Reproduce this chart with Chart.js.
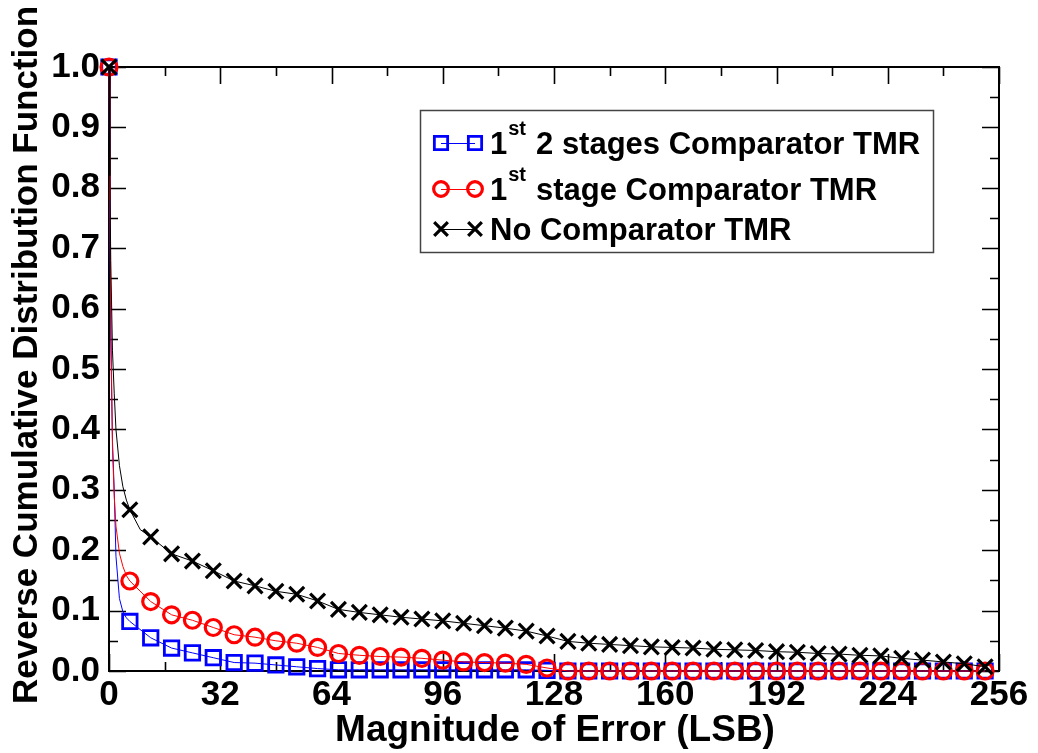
<!DOCTYPE html>
<html>
<head>
<meta charset="utf-8">
<script src="https://cdn.jsdelivr.net/npm/chart.js@4/dist/chart.umd.min.js"></script>
<style>
  html, body { margin: 0; padding: 0; background: #ffffff; }
  #wrap { width: 1038px; height: 753px; }
</style>
</head>
<body>
<div id="wrap"><canvas id="c" width="1038" height="753"></canvas></div>
<script>
// Error magnitudes (LSB) where markers are placed
const markerX = [0, 6, 12, 18, 24, 30, 36, 42, 48, 54, 60, 66, 72, 78, 84, 90, 96, 102, 108, 114,
  120, 126, 132, 138, 144, 150, 156, 162, 168, 174, 180, 186, 192, 198, 204, 210, 216, 222, 228,
  234, 240, 246, 252];

// Reverse CDF values at the marker positions
const noTmr = [1.0, 0.267, 0.222, 0.194, 0.182, 0.166, 0.149, 0.141, 0.132, 0.127, 0.116, 0.102,
  0.097, 0.093, 0.089, 0.086, 0.083, 0.079, 0.075, 0.071, 0.066, 0.058, 0.049, 0.046, 0.044, 0.042,
  0.040, 0.039, 0.038, 0.036, 0.035, 0.034, 0.032, 0.031, 0.029, 0.028, 0.026, 0.025, 0.021, 0.018,
  0.015, 0.012, 0.007];
const firstStageTmr = [1.0, 0.149, 0.115, 0.093, 0.084, 0.072, 0.060, 0.056, 0.050, 0.046, 0.039,
  0.029, 0.026, 0.024, 0.023, 0.021, 0.018, 0.015, 0.014, 0.013, 0.011, 0.005, 0, 0, 0, 0, 0, 0, 0,
  0, 0, 0, 0, 0, 0, 0, 0, 0, 0, 0, 0, 0, 0];
const twoStagesTmr = [1.0, 0.082, 0.055, 0.038, 0.030, 0.022, 0.014, 0.013, 0.010, 0.007, 0.004,
  0.002, 0.002, 0.002, 0.002, 0.002, 0.002, 0.002, 0.002, 0.002, 0.002, 0.001, 0, 0, 0, 0, 0, 0, 0,
  0, 0, 0, 0, 0, 0, 0, 0, 0, 0, 0, 0, 0, 0];

// Extra curve samples between markers (steep drop near zero)
const noTmrCurveX = [0.25, 0.5, 1, 1.5, 2, 3, 4, 5, 9];
const noTmrCurveY = [0.82, 0.68, 0.53, 0.46, 0.40, 0.34, 0.305, 0.283, 0.234];
const firstStageCurveX = [0.25, 0.5, 1, 1.5, 2, 3, 4, 5];
const firstStageCurveY = [0.78, 0.60, 0.37, 0.29, 0.24, 0.195, 0.173, 0.158];
const twoStagesCurveX = [0.25, 0.5, 1, 1.5, 2, 3, 4, 5];
const twoStagesCurveY = [0.75, 0.55, 0.38, 0.30, 0.19, 0.12, 0.098, 0.088];

// Axis ticks
const xTicks = [0, 32, 64, 96, 128, 160, 192, 224, 256];
const xMinorTicks = [16, 48, 80, 112, 144, 176, 208, 240];
const yTicks = [0, 0.1, 0.2, 0.3, 0.4, 0.5, 0.6, 0.7, 0.8, 0.9, 1.0];
const yMinorTicks = [0.05, 0.15, 0.25, 0.35, 0.45, 0.55, 0.65, 0.75, 0.85, 0.95];

const FONT = "'Liberation Sans', Arial, Helvetica, sans-serif";

function buildSeries(xs, ys, cx, cy) {
  const pts = xs.map((x, i) => ({ x: x, y: ys[i], marker: true }));
  cx.forEach((x, i) => pts.push({ x: x, y: cy[i], marker: false }));
  pts.sort((a, b) => a.x - b.x);
  return pts;
}

const series = [
  { label: 'No Comparator TMR', color: '#000000', style: 'crossRot', radius: 10.5, bw: 3.2,
    data: buildSeries(markerX, noTmr, noTmrCurveX, noTmrCurveY) },
  { label: 'stage Comparator TMR', color: '#ff0000', style: 'circle', radius: 8, bw: 3.2,
    data: buildSeries(markerX, firstStageTmr, firstStageCurveX, firstStageCurveY) },
  { label: '2 stages Comparator TMR', color: '#0000ff', style: 'rect', radius: 10.2, bw: 2.8,
    data: buildSeries(markerX, twoStagesTmr, twoStagesCurveX, twoStagesCurveY) }
];

function drawMarker(ctx, style, x, y, r, color, bw) {
  ctx.save();
  ctx.strokeStyle = color;
  ctx.lineWidth = bw;
  ctx.beginPath();
  if (style === 'circle') {
    ctx.arc(x, y, r, 0, Math.PI * 2);
  } else if (style === 'rect') {
    const s = Math.SQRT1_2 * r;
    ctx.rect(x - s, y - s, 2 * s, 2 * s);
  } else {
    const d = Math.SQRT1_2 * r;
    ctx.moveTo(x - d, y - d); ctx.lineTo(x + d, y + d);
    ctx.moveTo(x - d, y + d); ctx.lineTo(x + d, y - d);
  }
  ctx.stroke();
  ctx.restore();
}

const framePlugin = {
  id: 'frame',
  beforeDatasetsDraw(chart) {
    const ctx = chart.ctx;
    const a = chart.chartArea;
    const xs = chart.scales.x, ys = chart.scales.y;
    ctx.save();
    ctx.strokeStyle = '#000';
    ctx.lineWidth = 1.6;
    const major = 17, minor = 9;
    ctx.beginPath();
    xTicks.forEach(v => {
      const p = Math.round(xs.getPixelForValue(v)) + 0.5;
      ctx.moveTo(p, a.bottom); ctx.lineTo(p, a.bottom - major);
      ctx.moveTo(p, a.top); ctx.lineTo(p, a.top + major);
    });
    xMinorTicks.forEach(v => {
      const p = Math.round(xs.getPixelForValue(v)) + 0.5;
      ctx.moveTo(p, a.bottom); ctx.lineTo(p, a.bottom - minor);
      ctx.moveTo(p, a.top); ctx.lineTo(p, a.top + minor);
    });
    yTicks.forEach(v => {
      const p = Math.round(ys.getPixelForValue(v)) + 0.5;
      ctx.moveTo(a.left, p); ctx.lineTo(a.left + major, p);
      ctx.moveTo(a.right, p); ctx.lineTo(a.right - major, p);
    });
    yMinorTicks.forEach(v => {
      const p = Math.round(ys.getPixelForValue(v)) + 0.5;
      ctx.moveTo(a.left, p); ctx.lineTo(a.left + minor, p);
      ctx.moveTo(a.right, p); ctx.lineTo(a.right - minor, p);
    });
    ctx.stroke();
    ctx.lineWidth = 2;
    ctx.strokeRect(a.left, a.top, a.right - a.left, a.bottom - a.top);
    ctx.restore();
  },
  afterDraw(chart) {
    const ctx = chart.ctx;
    ctx.save();
    ctx.fillStyle = '#000';
    // Axis titles
    ctx.font = 'bold 37px ' + FONT;
    ctx.textAlign = 'center';
    ctx.textBaseline = 'alphabetic';
    ctx.fillText('Magnitude of Error (LSB)', 555, 741);
    ctx.save();
    ctx.translate(37, 355);
    ctx.rotate(-Math.PI / 2);
    ctx.font = 'bold 35px ' + FONT;
    ctx.fillText('Reverse Cumulative Distribution Function', 0, 0);
    ctx.restore();

    // Legend
    ctx.fillStyle = '#fff';
    ctx.fillRect(421, 111, 511, 141);
    ctx.strokeStyle = '#444';
    ctx.lineWidth = 1.5;
    ctx.strokeRect(420.5, 110.5, 513, 142);
    const rows = [
      { s: series[2], cy: 143, base: 154, sup: true, text: '2 stages Comparator TMR' },
      { s: series[1], cy: 189, base: 200, sup: true, text: 'stage Comparator TMR' },
      { s: series[0], cy: 229, base: 240, sup: false, text: 'No Comparator TMR' }
    ];
    rows.forEach(r => {
      ctx.strokeStyle = r.s.color;
      ctx.lineWidth = 1;
      ctx.beginPath();
      ctx.moveTo(441, r.cy + 0.5); ctx.lineTo(475, r.cy + 0.5);
      ctx.stroke();
      const lr = r.s.radius * 0.92;
      drawMarker(ctx, r.s.style, 441, r.cy, lr, r.s.color, r.s.bw);
      drawMarker(ctx, r.s.style, 475, r.cy, lr, r.s.color, r.s.bw);
      ctx.fillStyle = '#000';
      ctx.textAlign = 'left';
      ctx.textBaseline = 'alphabetic';
      let x = 490;
      if (r.sup) {
        ctx.font = 'bold 31px ' + FONT;
        ctx.fillText('1', x, r.base);
        x += ctx.measureText('1').width + 1;
        ctx.font = 'bold 20px ' + FONT;
        ctx.fillText('st', x, r.base - 19);
        x += ctx.measureText('st').width + 10;
      }
      ctx.font = 'bold 31px ' + FONT;
      ctx.fillText(r.text, x, r.base);
    });
    ctx.restore();
  }
};

new Chart(document.getElementById('c'), {
  type: 'line',
  data: {
    datasets: series.map(s => ({
      label: s.label,
      data: s.data,
      borderColor: s.color,
      backgroundColor: 'transparent',
      borderWidth: 1,
      tension: 0,
      clip: false,
      pointStyle: s.style,
      pointRadius: c => (c.raw && c.raw.marker ? s.radius : 0),
      pointHoverRadius: 0,
      pointBorderColor: s.color,
      pointBackgroundColor: 'transparent',
      pointBorderWidth: s.bw
    }))
  },
  options: {
    responsive: false,
    devicePixelRatio: 1,
    animation: false,
    events: [],
    layout: { padding: { left: 0, top: 67, right: 39, bottom: 0 } },
    plugins: { legend: { display: false }, tooltip: { enabled: false } },
    scales: {
      x: {
        type: 'linear', min: 0, max: 256,
        afterFit: s => { s.height = 82; },
        afterBuildTicks: s => { s.ticks = xTicks.map(v => ({ value: v })); },
        ticks: { color: '#000', font: { family: FONT, size: 35, weight: 'bold' },
          padding: 3, maxRotation: 0, autoSkip: false, callback: v => String(v) },
        grid: { drawOnChartArea: false, drawTicks: false },
        border: { display: false }
      },
      y: {
        type: 'linear', min: 0, max: 1,
        afterFit: s => { s.width = 109; },
        afterBuildTicks: s => { s.ticks = yTicks.map(v => ({ value: v })); },
        ticks: { color: '#000', font: { family: FONT, size: 35, weight: 'bold' },
          padding: 9, autoSkip: false, callback: v => Number(v).toFixed(1) },
        grid: { drawOnChartArea: false, drawTicks: false },
        border: { display: false }
      }
    }
  },
  plugins: [framePlugin]
});
</script>
</body>
</html>
